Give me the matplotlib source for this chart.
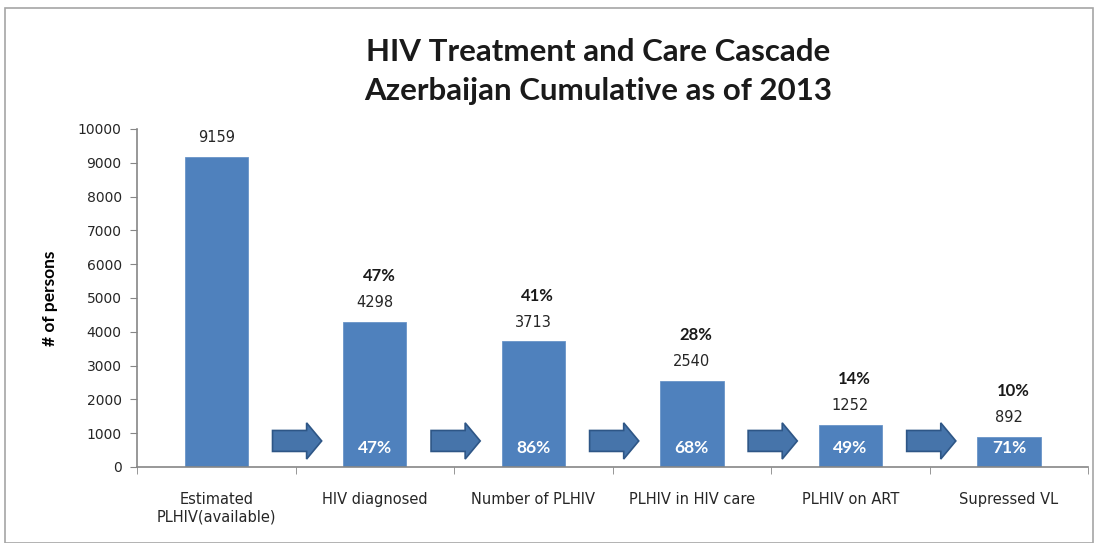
import numpy as np
import matplotlib.pyplot as plt
from matplotlib.patches import FancyArrow, Rectangle

categories = ["Estimated\nPLHIV(available)", "HIV diagnosed", "Number of PLHIV",
              "PLHIV in HIV care", "PLHIV on ART", "Supressed VL"]
persons = [9159, 4298, 3713, 2540, 1252, 892]
pct_of_estimated = ["", "47%", "41%", "28%", "14%", "10%"]
pct_of_previous = ["", "47%", "86%", "68%", "49%", "71%"]
yticks = np.arange(0, 10001, 1000)

bar_color = '#4F81BD'
axis_gray = '#868686'

fig = plt.figure(figsize=(10.94, 5.43), dpi=100)
ax = fig.add_axes([0.1252, 0.140, 0.8695, 0.6225])

# outer chart frame
fig.patches.append(Rectangle((0.005, 0.0), 0.994, 0.985, transform=fig.transFigure,
                             fill=False, edgecolor='#A6A6A6', linewidth=1.2))

x = np.arange(len(categories))
ax.bar(x, persons, width=0.4, color=bar_color, edgecolor='#6A95C8', linewidth=0.6, zorder=2)

# arrows between bars
for i in range(len(categories) - 1):
    xc = i + 0.51
    ax.add_patch(FancyArrow(xc - 0.155, 770, 0.31, 0, width=620, head_width=1070,
                            head_length=0.095, length_includes_head=True,
                            facecolor='#4674AA', edgecolor='#2E5686', linewidth=1.2, zorder=3))

for i, v in enumerate(persons):
    ax.annotate(str(v), (i, v), xytext=(0, 14), textcoords='offset points',
                ha='center', va='center', fontsize=10.5, family='DejaVu Sans', color='#262626')
    if pct_of_estimated[i]:
        ax.annotate(pct_of_estimated[i], (i, v), xytext=(3, 33), textcoords='offset points',
                    ha='center', va='center', fontsize=12, fontweight='bold',
                    family='Lato', color='#1A1A1A')
    if pct_of_previous[i]:
        ax.text(i, 570, pct_of_previous[i], ha='center', va='center', fontsize=12.5,
                fontweight='bold', family='Lato', color='white', zorder=4)

ax.set_xlim(-0.5, 5.5)
ax.set_ylim(0, 10000)
ax.set_yticks(yticks)
ax.set_yticklabels([str(t) for t in yticks], fontsize=10, family='DejaVu Sans', color='#262626')
ax.set_xticks(x)
ax.set_xticklabels(categories, fontsize=10.5, family='DejaVu Sans', color='#262626')
ax.set_xticks(np.arange(-0.5, 6.0, 1.0), minor=True)
ax.tick_params(axis='x', which='major', length=0, pad=18)
ax.tick_params(axis='x', which='minor', length=5, color=axis_gray, direction='out')
ax.tick_params(axis='y', length=5, color=axis_gray, pad=6)
for s in ['top', 'right']:
    ax.spines[s].set_visible(False)
for s in ['left', 'bottom']:
    ax.spines[s].set_color(axis_gray)
    ax.spines[s].set_linewidth(1.2)

ax.set_ylabel('# of persons', fontsize=12.5, fontweight='bold', family='Lato', labelpad=14)

fig.text(0.547, 0.905, 'HIV Treatment and Care Cascade', ha='center', va='center',
         fontsize=22.5, fontweight='bold', family='Lato', color='#1A1A1A')
fig.text(0.547, 0.833, 'Azerbaijan Cumulative as of 2013', ha='center', va='center',
         fontsize=22.5, fontweight='bold', family='Lato', color='#1A1A1A')

fig.savefig('out.png', dpi=100)
